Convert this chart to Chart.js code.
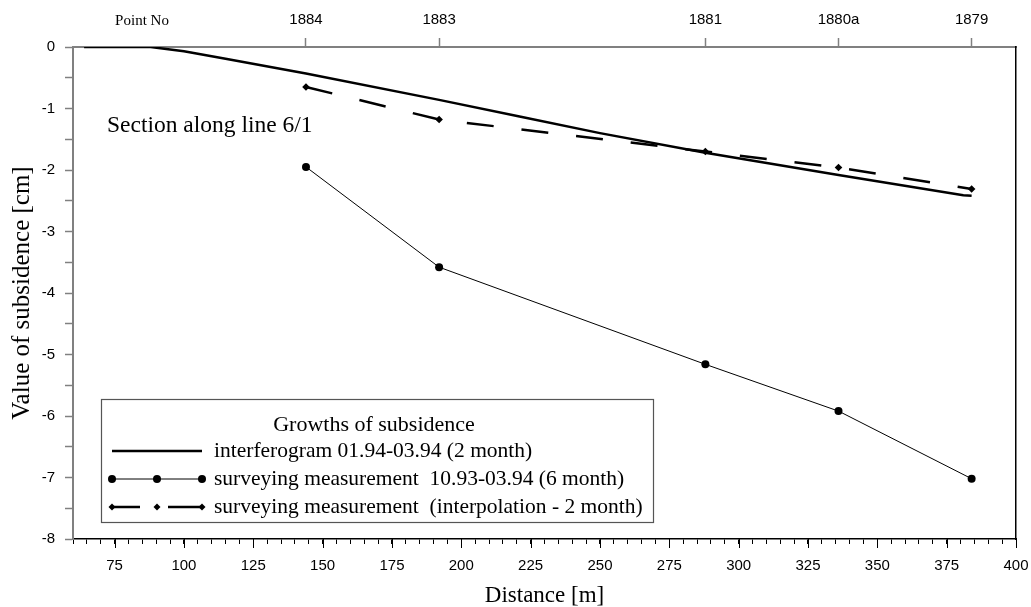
<!DOCTYPE html>
<html><head><meta charset="utf-8">
<script src="https://cdn.jsdelivr.net/npm/chart.js@4.4.1/dist/chart.umd.min.js"></script>
<style>html,body{margin:0;padding:0;background:#fff;overflow:hidden}#wrap{width:1031px;height:607px;position:relative}</style>
</head><body><div id="wrap"><canvas id="c" width="1031" height="607"></canvas></div>
<script>
// ---- data ----
const pointNames = ['1884', '1883', '1881', '1880a', '1879'];
const pointDistance = [144, 192, 288, 336, 384];
const surveying6Month = [-1.95, -3.58, -5.16, -5.92, -7.02];
const surveyingInterp = [-0.65, -1.18, -1.70, -1.96, -2.31];
const interferogramDistance = [64, 88, 100, 115, 144, 192, 221, 250, 288, 336, 381, 384];
const interferogramValue = [0, 0, -0.07, -0.19, -0.43, -0.86, -1.13, -1.40, -1.72, -2.08, -2.41, -2.42];
const seriesLabels = [
  'interferogram 01.94-03.94 (2 month)',
  'surveying measurement  10.93-03.94 (6 month)',
  'surveying measurement  (interpolation - 2 month)'
];
const legendTitle = 'Growths of subsidence';
const sectionLabel = 'Section along line 6/1';
const topAxisName = 'Point No';
const xAxisTitle = 'Distance [m]';
const yAxisTitle = 'Value of subsidence [cm]';

const SERIF = '"Liberation Serif", "Times New Roman", serif';
const SANS = '"Liberation Sans", Arial, sans-serif';

const toXY = (xs, ys) => xs.map((x, i) => ({x: x, y: ys[i]}));

const overlay = {
  id: 'overlay',
  afterDraw(chart) {
    const ctx = chart.ctx, ca = chart.chartArea;
    const xs = chart.scales.x;
    ctx.save();
    // longer major ticks on bottom axis
    ctx.strokeStyle = '#000'; ctx.lineWidth = 1;
    xs.ticks.forEach(t => {
      if ((t.value - 75) % 25 === 0) {
        const px = Math.round(xs.getPixelForValue(t.value)) + 0.5;
        ctx.beginPath(); ctx.moveTo(px, ca.bottom); ctx.lineTo(px, ca.bottom + 9); ctx.stroke();
      }
    });
    // Point No label
    ctx.fillStyle = '#000';
    ctx.font = '15px ' + SERIF; ctx.textAlign = 'center'; ctx.textBaseline = 'middle';
    ctx.fillText(topAxisName, 142, 21);
    // Section label
    ctx.font = '23.5px ' + SERIF; ctx.textAlign = 'left';
    ctx.fillText(sectionLabel, ca.left + 34, 126);
    // Legend box
    const bx = ca.left + 28, by = 399, bw = 552, bh = 123;
    ctx.fillStyle = '#fff'; ctx.fillRect(bx, by, bw, bh);
    ctx.strokeStyle = '#555'; ctx.lineWidth = 1.2; ctx.strokeRect(bx + 0.5, by + 0.5, bw, bh);
    ctx.fillStyle = '#000';
    ctx.font = '22px ' + SERIF; ctx.textAlign = 'center';
    ctx.fillText(legendTitle, bx + bw / 2 - 3, by + 26);
    const ds = chart.data.datasets;
    const rows = [by + 52, by + 80, by + 108];
    const x0 = bx + 11, x1 = bx + 56, x2 = bx + 101;
    ctx.font = '21.5px ' + SERIF; ctx.textAlign = 'left';
    const dI = ds[2], dS = ds[0], dP = ds[1];
    ctx.strokeStyle = '#000';
    // row 1 interferogram
    ctx.lineWidth = dI.borderWidth;
    ctx.beginPath(); ctx.moveTo(x0, rows[0]); ctx.lineTo(x2, rows[0]); ctx.stroke();
    ctx.fillText(dI.label, x2 + 12, rows[0]);
    // row 2 surveying 6 month
    ctx.lineWidth = dS.borderWidth;
    ctx.beginPath(); ctx.moveTo(x0, rows[1]); ctx.lineTo(x2, rows[1]); ctx.stroke();
    [x0, x1, x2].forEach(px => { ctx.beginPath(); ctx.arc(px, rows[1], 4, 0, Math.PI * 2); ctx.fill(); });
    ctx.fillText(dS.label, x2 + 12, rows[1]);
    // row 3 interpolation
    ctx.lineWidth = dP.borderWidth;
    ctx.beginPath(); ctx.moveTo(x0, rows[2]); ctx.lineTo(x0 + 28, rows[2]);
    ctx.moveTo(x1 + 11, rows[2]); ctx.lineTo(x2, rows[2]); ctx.stroke();
    [x0, x1, x2].forEach(px => {
      const r = 3.5;
      ctx.beginPath(); ctx.moveTo(px, rows[2] - r); ctx.lineTo(px + r, rows[2]); ctx.lineTo(px, rows[2] + r); ctx.lineTo(px - r, rows[2]); ctx.closePath(); ctx.fill();
    });
    ctx.fillText(dP.label, x2 + 12, rows[2]);
    ctx.restore();
  }
};

new Chart(document.getElementById('c'), {
  type: 'scatter',
  data: {
    datasets: [
      {
        label: seriesLabels[1],
        data: toXY(pointDistance, surveying6Month),
        showLine: true, borderColor: '#000', backgroundColor: '#000', borderWidth: 1,
        pointStyle: 'circle', pointRadius: 4, pointBorderWidth: 0
      },
      {
        label: seriesLabels[2],
        data: toXY(pointDistance, surveyingInterp),
        showLine: true, borderColor: '#000', backgroundColor: '#000', borderWidth: 2.5,
        borderDash: [27, 28], pointStyle: 'rectRot', pointRadius: 3.8, pointBorderWidth: 0
      },
      {
        label: seriesLabels[0],
        data: toXY(interferogramDistance, interferogramValue),
        showLine: true, borderColor: '#000', backgroundColor: '#000', borderWidth: 2.5,
        pointRadius: 0
      }
    ]
  },
  options: {
    responsive: false, animation: false, devicePixelRatio: 1,
    layout: {padding: 0},
    plugins: {legend: {display: false}, tooltip: {enabled: false}},
    scales: {
      x: {
        type: 'linear', position: 'bottom', min: 60, max: 400,
        afterFit: s => { s.height = 68; s.paddingLeft = 0; s.paddingRight = 0; },
        ticks: {
          stepSize: 5, autoSkip: false, maxRotation: 0, padding: 13, color: '#000',
          font: {family: SANS, size: 15},
          callback: v => ((v - 75) % 25 === 0 ? String(v) : '')
        },
        grid: {drawOnChartArea: false, tickLength: 5, tickColor: '#000', tickWidth: 1},
        border: {color: '#000', width: 1.5},
        title: {display: true, text: xAxisTitle, color: '#000', font: {family: SERIF, size: 23, lineHeight: 1}, padding: {top: 0, bottom: 0}}
      },
      x2: {
        type: 'linear', position: 'top', min: 60, max: 400,
        afterFit: s => { s.height = 47; s.paddingLeft = 0; s.paddingRight = 0; },
        afterBuildTicks: s => { s.ticks = pointDistance.map(v => ({value: v})); },
        ticks: {
          autoSkip: false, maxRotation: 0, padding: 9, color: '#000',
          font: {family: SANS, size: 15},
          callback: v => pointNames[pointDistance.indexOf(v)]
        },
        grid: {drawOnChartArea: false, tickLength: 9, tickColor: '#808080', tickWidth: 1.5},
        border: {color: '#808080', width: 2}
      },
      y: {
        type: 'linear', position: 'left', min: -8, max: 0,
        afterFit: s => { s.width = 73; },
        ticks: {
          stepSize: 0.5, autoSkip: false, padding: 10, color: '#000',
          font: {family: SANS, size: 15},
          callback: v => (Number.isInteger(v) ? String(v) : '')
        },
        grid: {drawOnChartArea: false, tickLength: 8, tickColor: '#808080', tickWidth: 1.5},
        border: {color: '#808080', width: 2},
        title: {display: true, text: yAxisTitle, color: '#000', font: {family: SERIF, size: 25, lineHeight: 1}, padding: {top: 10, bottom: 0}}
      },
      y2: {
        type: 'linear', position: 'right', min: -8, max: 0,
        afterFit: s => { s.width = 15; },
        ticks: {display: false},
        grid: {drawOnChartArea: false, drawTicks: false},
        border: {color: '#000', width: 1.5}
      }
    }
  },
  plugins: [overlay]
});
</script>
</body></html>
